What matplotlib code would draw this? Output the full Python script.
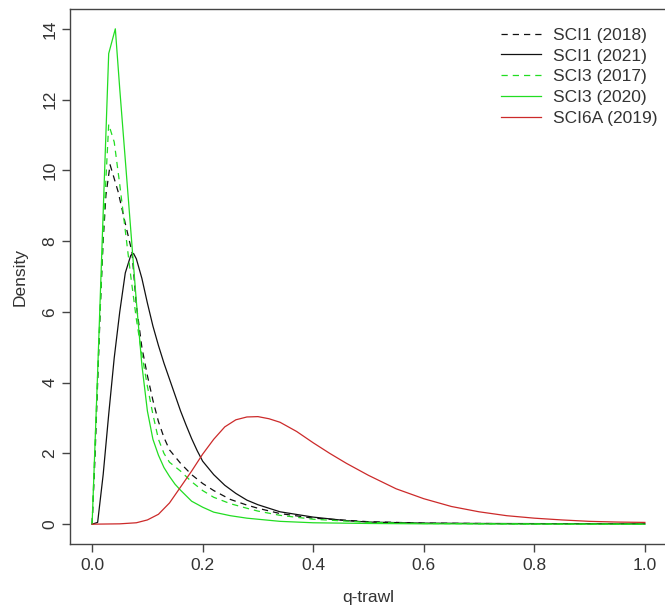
import matplotlib
matplotlib.use("Agg")
import matplotlib.pyplot as plt

plt.rcParams['font.family'] = ['Liberation Sans', 'DejaVu Sans']

# --- data ---
x_sci1_2018 = [0, 0.005, 0.01, 0.015, 0.02, 0.025, 0.0325, 0.047, 0.06, 0.072, 0.08, 0.09, 0.10, 0.11, 0.12, 0.13,
               0.14, 0.16, 0.18, 0.20, 0.22, 0.25, 0.28, 0.30, 0.34, 0.40, 0.50, 0.60, 0.80, 1.0]
y_sci1_2018 = [0, 1.8, 4.0, 6.2, 8.0, 9.3, 10.16, 9.4, 8.5, 7.7, 6.2, 5.0, 4.2, 3.5, 2.9, 2.45,
               2.1, 1.72, 1.4, 1.15, 0.95, 0.7, 0.54, 0.45, 0.30, 0.17, 0.07, 0.03, 0.01, 0.01]

x_sci1_2021 = [0, 0.01, 0.02, 0.03, 0.04, 0.05, 0.06, 0.07, 0.075, 0.08, 0.09, 0.10, 0.11, 0.12, 0.13, 0.14,
               0.15, 0.16, 0.17, 0.18, 0.19, 0.20, 0.22, 0.24, 0.26, 0.28, 0.30, 0.34, 0.40, 0.46, 0.50,
               0.60, 0.70, 1.0]
y_sci1_2021 = [0, 0.05, 1.4, 3.1, 4.7, 6.0, 7.1, 7.6, 7.65, 7.5, 6.95, 6.25, 5.6, 5.05, 4.55, 4.1,
               3.65, 3.2, 2.8, 2.42, 2.08, 1.78, 1.4, 1.1, 0.87, 0.68, 0.55, 0.35, 0.20, 0.10, 0.06,
               0.03, 0.02, 0.01]

x_sci3_2017 = [0, 0.01, 0.02, 0.03, 0.04, 0.05, 0.06, 0.07, 0.08, 0.09, 0.10, 0.11, 0.12, 0.13, 0.14,
               0.16, 0.18, 0.20, 0.22, 0.25, 0.28, 0.30, 0.34, 0.40, 0.50, 0.60, 0.80, 1.0]
y_sci3_2017 = [0, 4.2, 8.2, 11.3, 10.8, 9.6, 8.3, 7.0, 5.8, 4.8, 3.9, 3.1, 2.4, 2.0, 1.75,
               1.5, 1.2, 0.95, 0.76, 0.58, 0.45, 0.37, 0.25, 0.14, 0.05, 0.02, 0.005, 0]

x_sci3_2020 = [0, 0.01, 0.02, 0.03, 0.042, 0.05, 0.06, 0.07, 0.08, 0.09, 0.10, 0.11, 0.12, 0.13, 0.14,
               0.15, 0.16, 0.18, 0.20, 0.22, 0.25, 0.28, 0.34, 0.40, 0.50, 0.60, 1.0]
y_sci3_2020 = [0, 4.3, 8.8, 13.3, 14.0, 12.3, 10.3, 8.3, 6.3, 4.5, 3.2, 2.4, 1.95, 1.6, 1.35,
               1.13, 0.96, 0.65, 0.48, 0.34, 0.24, 0.17, 0.08, 0.04, 0.02, 0.01, 0]

x_sci6a_2019 = [0, 0.05, 0.08, 0.10, 0.12, 0.14, 0.16, 0.18, 0.20, 0.22, 0.24, 0.26, 0.28, 0.30, 0.32,
                0.34, 0.37, 0.40, 0.43, 0.46, 0.50, 0.55, 0.60, 0.65, 0.70, 0.75, 0.80, 0.85, 0.90,
                0.95, 1.0]
y_sci6a_2019 = [0, 0.01, 0.04, 0.12, 0.28, 0.6, 1.05, 1.5, 1.98, 2.4, 2.75, 2.95, 3.03, 3.04, 2.98,
                2.88, 2.62, 2.3, 2.0, 1.72, 1.38, 1.0, 0.72, 0.5, 0.35, 0.24, 0.17, 0.12, 0.08,
                0.06, 0.05]

labels = ["SCI1 (2018)", "SCI1 (2021)", "SCI3 (2017)", "SCI3 (2020)", "SCI6A (2019)"]
x_ticks = [0.0, 0.2, 0.4, 0.6, 0.8, 1.0]
x_tick_labels = ["0.0", "0.2", "0.4", "0.6", "0.8", "1.0"]
y_ticks = [0, 2, 4, 6, 8, 10, 12, 14]
y_tick_labels = ["0", "2", "4", "6", "8", "10", "12", "14"]

W, H = 665, 609
fig = plt.figure(figsize=(W / 100, H / 100), dpi=100)
L, R, T, B = 70, 667, 9, 544
ax = fig.add_axes([L / W, (H - B) / H, (R - L) / W, (B - T) / H])

black = "#111111"
green = "#22dd22"
red = "#cc2a2a"
lw = 0.9
dash = (5, 4)

ax.plot(x_sci1_2018, y_sci1_2018, color=black, lw=lw, dashes=dash, label=labels[0])
ax.plot(x_sci1_2021, y_sci1_2021, color=black, lw=lw, label=labels[1])
ax.plot(x_sci3_2017, y_sci3_2017, color=green, lw=lw, dashes=dash, label=labels[2])
ax.plot(x_sci3_2020, y_sci3_2020, color=green, lw=lw, label=labels[3])
ax.plot(x_sci6a_2019, y_sci6a_2019, color=red, lw=lw, label=labels[4])

ax.set_xlim(-0.04, 1.04)
ax.set_ylim(-0.56, 14.56)
ax.set_xticks(x_ticks)
ax.set_xticklabels(x_tick_labels)
ax.set_yticks(y_ticks)
ax.set_yticklabels(y_tick_labels, rotation=90, va="center")

for s in ax.spines.values():
    s.set_color("#444444")
    s.set_linewidth(1.0)

ax.tick_params(axis="both", direction="out", length=6, width=1.0, color="#444444",
               labelsize=12.5, labelcolor="#333333")
ax.tick_params(axis="x", pad=4)
ax.tick_params(axis="y", pad=3)
ax.set_xlabel("q-trawl", fontsize=12.5, color="#333333", labelpad=12)
ax.set_ylabel("Density", fontsize=12.5, color="#333333", labelpad=11)

leg = ax.legend(loc="upper right", bbox_to_anchor=(666 / W, (H - 19) / H),
                bbox_transform=fig.transFigure, frameon=False, fontsize=12.5,
                handlelength=2.3, handletextpad=0.7, labelspacing=0.32, borderpad=0)
for t in leg.get_texts():
    t.set_color("#333333")

fig.savefig("out.png", dpi=100)
